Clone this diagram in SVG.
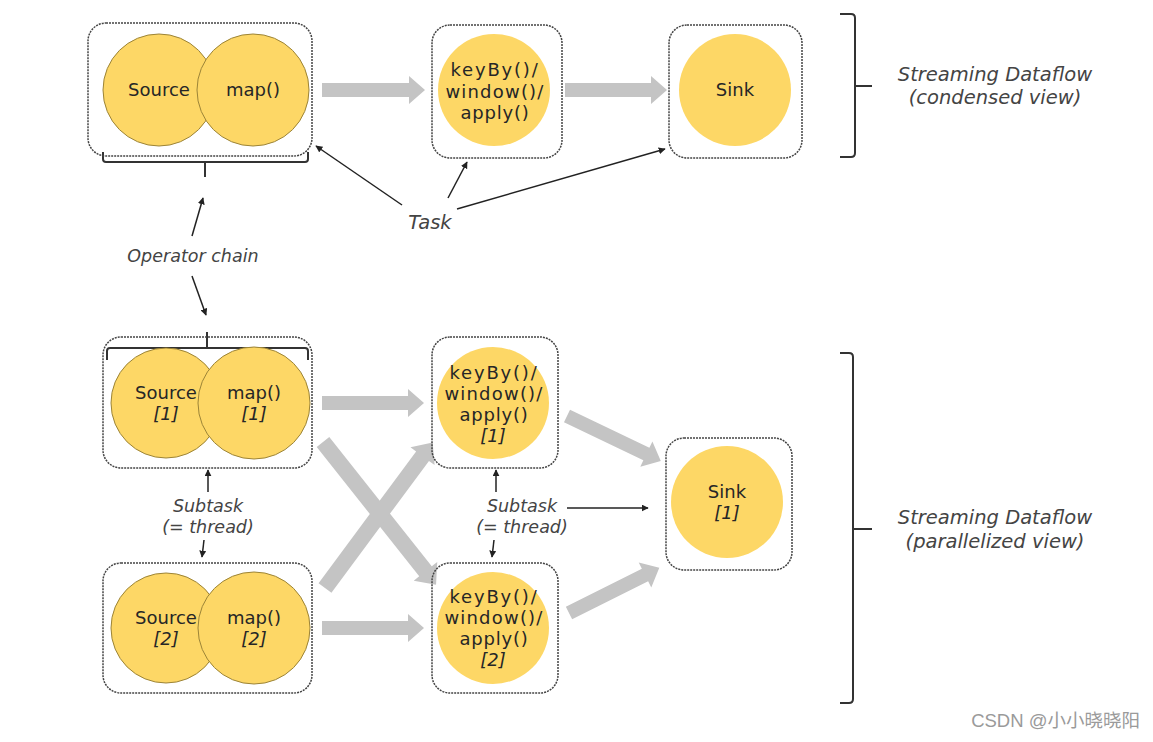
<svg xmlns="http://www.w3.org/2000/svg" width="1153" height="742" viewBox="0 0 1153 742">
<style>
.box{fill:none;stroke:#444;stroke-width:1.5;stroke-dasharray:2 1}
.op{fill:#FDD766;stroke:#9c8437;stroke-width:1}
.opn{fill:#FDD766}
.t{font-family:"DejaVu Sans",Verdana,sans-serif;font-size:18px;fill:#262626;text-anchor:middle}
.ti{font-family:"DejaVu Sans",Verdana,sans-serif;font-size:18px;fill:#262626;text-anchor:middle;font-style:italic}
.k1{letter-spacing:1.8px}
.k2{letter-spacing:1.2px}
.k3{letter-spacing:0.8px}
.lab{font-family:"DejaVu Sans",Verdana,sans-serif;font-style:italic;fill:#444;text-anchor:middle}
.ga{fill:#c4c4c4}
.ln{fill:none;stroke:#222;stroke-width:1.5}
.br{fill:none;stroke:#333;stroke-width:2}
</style>
<defs>
<marker id="ah" viewBox="0 0 10 10" refX="9" refY="5" markerWidth="7" markerHeight="7" markerUnits="userSpaceOnUse" orient="auto">
<path d="M0,0 L10,5 L0,10 z" fill="#222"/>
</marker>
</defs>
<rect width="1153" height="742" fill="#fff"/>

<g id="connectors">
<polygon class="ga" points="322,83 409,83 409,76 425,90 409,104 409,97 322,97"/>
<polygon class="ga" points="565,83 651,83 651,76 667,90 651,104 651,97 565,97"/>
<polygon class="ga" points="322,396 408,396 408,389 424,403 408,417 408,410 322,410"/>
<polygon class="ga" points="322,621 408,621 408,614 424,628 408,642 408,635 322,635"/>
<g transform="translate(323,442) rotate(51.6)"><polygon class="ga" points="0,-8 165,-8 165,-15 182,0 165,15 165,8 0,8"/></g>
<g transform="translate(325,588) rotate(-53.5)"><polygon class="ga" points="0,-8 164,-8 164,-15 181,0 164,15 164,8 0,8"/></g>
<g transform="translate(567,416) rotate(25.6)"><polygon class="ga" points="0,-7 88,-7 88,-14 104,0 88,14 88,7 0,7"/></g>
<g transform="translate(569,613) rotate(-26.6)"><polygon class="ga" points="0,-7 85,-7 85,-14 101,0 85,14 85,7 0,7"/></g>

<line class="ln" x1="402" y1="205" x2="316" y2="146" marker-end="url(#ah)"/>
<line class="ln" x1="448" y1="198" x2="467" y2="162" marker-end="url(#ah)"/>
<line class="ln" x1="457" y1="209" x2="665" y2="149" marker-end="url(#ah)"/>
<line class="ln" x1="192" y1="236" x2="203" y2="198" marker-end="url(#ah)"/>
<line class="ln" x1="192" y1="276" x2="206" y2="315" marker-end="url(#ah)"/>
<line class="ln" x1="208" y1="492" x2="208" y2="470" marker-end="url(#ah)"/>
<line class="ln" x1="204" y1="540" x2="202" y2="557" marker-end="url(#ah)"/>
<line class="ln" x1="496" y1="492" x2="496" y2="470" marker-end="url(#ah)"/>
<line class="ln" x1="494" y1="540" x2="492" y2="557" marker-end="url(#ah)"/>
<line class="ln" x1="567" y1="508" x2="648" y2="508" marker-end="url(#ah)"/>

<path class="br" d="M103,152 V159 Q103,162 106,162 H305 Q308,162 308,159 V152 M205,162 V177"/>
<path class="br" d="M107,360 V351 Q107,348 110,348 H305 Q308,348 308,351 V360 M207,332 V348"/>

<path class="br" d="M840,14 H851 Q855,14 855,18 V153 Q855,157 851,157 H840 M855,86 H872"/>
<path class="br" d="M840,353 H849 Q853,353 853,357 V699 Q853,703 849,703 H840 M853,529 H872"/>
</g>

<g id="chain-top">
<rect class="box" x="88" y="23" width="224" height="133" rx="18"/>
<circle class="op" cx="159" cy="90" r="56"/>
<circle class="op" cx="253" cy="90" r="56"/>
<text class="t" x="159" y="96">Source</text>
<text class="t" x="253" y="96">map()</text>
</g>

<g id="window-top">
<rect class="box" x="432" y="25" width="130" height="133" rx="18"/>
<circle class="opn" cx="494" cy="90" r="56"/>
<text class="t k1" x="495" y="76">keyBy()/</text>
<text class="t k2" x="495" y="98">window()/</text>
<text class="t k3" x="495" y="119">apply()</text>
</g>

<g id="sink-top">
<rect class="box" x="669" y="25" width="133" height="133" rx="18"/>
<circle class="opn" cx="735" cy="90" r="56"/>
<text class="t" x="735" y="96">Sink</text>
</g>

<g id="chain-1">
<rect class="box" x="103" y="337" width="209" height="131" rx="18"/>
<circle class="op" cx="166" cy="403" r="55"/>
<circle class="op" cx="254" cy="403" r="56"/>
<text class="t" x="166" y="399">Source</text>
<text class="ti" x="166" y="420">[1]</text>
<text class="t" x="254" y="399">map()</text>
<text class="ti" x="254" y="420">[1]</text>
</g>

<g id="chain-2">
<rect class="box" x="103" y="563" width="209" height="130" rx="18"/>
<circle class="op" cx="166" cy="628" r="55"/>
<circle class="op" cx="254" cy="628" r="56"/>
<text class="t" x="166" y="624">Source</text>
<text class="ti" x="166" y="645">[2]</text>
<text class="t" x="254" y="624">map()</text>
<text class="ti" x="254" y="645">[2]</text>
</g>

<g id="window-1">
<rect class="box" x="432" y="337" width="126" height="131" rx="18"/>
<circle class="opn" cx="493" cy="403" r="56"/>
<text class="t k1" x="494" y="379">keyBy()/</text>
<text class="t k2" x="494" y="400">window()/</text>
<text class="t k3" x="494" y="421">apply()</text>
<text class="ti" x="493" y="442">[1]</text>
</g>

<g id="window-2">
<rect class="box" x="432" y="563" width="126" height="130" rx="18"/>
<circle class="opn" cx="493" cy="628" r="56"/>
<text class="t k1" x="494" y="603">keyBy()/</text>
<text class="t k2" x="494" y="624">window()/</text>
<text class="t k3" x="494" y="645">apply()</text>
<text class="ti" x="493" y="666">[2]</text>
</g>

<g id="sink-1">
<rect class="box" x="666" y="438" width="126" height="132" rx="18"/>
<circle class="opn" cx="727" cy="502" r="56"/>
<text class="t" x="727" y="498">Sink</text>
<text class="ti" x="727" y="519">[1]</text>
</g>

<g id="labels">
<text class="lab" x="995" y="81" font-size="19.5">Streaming Dataflow</text>
<text class="lab" x="995" y="104" font-size="19.5">(condensed view)</text>
<text class="lab" x="995" y="524" font-size="19.5">Streaming Dataflow</text>
<text class="lab" x="995" y="548" font-size="19.5">(parallelized view)</text>
<text class="lab" x="430" y="229" font-size="19.5">Task</text>
<text class="lab" x="193" y="262" font-size="17.5">Operator chain</text>
<text class="lab" x="208" y="512" font-size="17.5">Subtask</text>
<text class="lab" x="208" y="533" font-size="17.5">(= thread)</text>
<text class="lab" x="522" y="512" font-size="17.5">Subtask</text>
<text class="lab" x="522" y="533" font-size="17.5">(= thread)</text>
</g>

<text x="1140" y="727" font-family="'Liberation Sans','Noto Sans CJK SC',sans-serif" font-size="18.5" fill="#9a9a9a" text-anchor="end">CSDN @小小晓晓阳</text>
</svg>
